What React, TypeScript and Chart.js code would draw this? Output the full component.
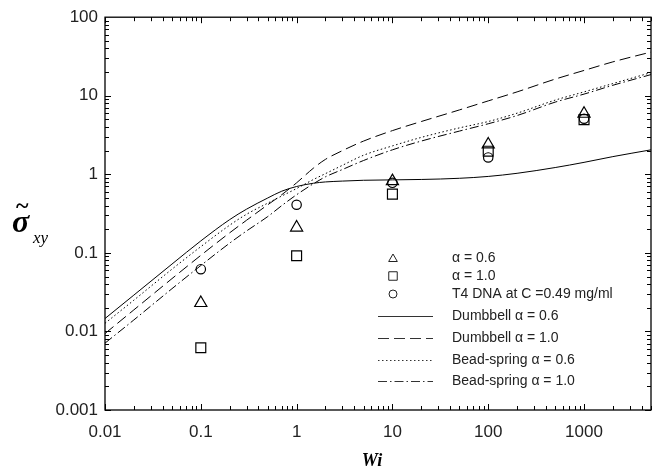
import { useEffect, useRef } from 'react';
import { Chart, registerables } from 'chart.js';
Chart.register(...registerables);

// Model curves (Wi grid shared)
const wiGrid = [0.01, 0.02, 0.05, 0.1, 0.2, 0.3, 0.5, 0.7, 1, 1.5, 2, 3, 5, 10, 20, 50, 100, 200, 500, 1000, 2000, 5000];
const dumbbell06 = [0.0146, 0.029, 0.072, 0.142, 0.265, 0.36, 0.5, 0.61, 0.7, 0.77, 0.8, 0.82, 0.84, 0.85, 0.86, 0.89, 0.94, 1.03, 1.22, 1.42, 1.68, 2.05];
const dumbbell10 = [0.0094, 0.0188, 0.047, 0.093, 0.18, 0.26, 0.41, 0.55, 0.78, 1.2, 1.55, 2.0, 2.65, 3.6, 4.7, 6.6, 8.6, 11.2, 16.3, 21, 27, 36];
const beadSpring06 = [0.0127, 0.025, 0.062, 0.12, 0.225, 0.31, 0.43, 0.53, 0.66, 0.86, 1.02, 1.3, 1.75, 2.3, 2.95, 3.9, 4.7, 6.0, 8.8, 11.2, 14.3, 19.7];
const beadSpring10 = [0.0071, 0.014, 0.035, 0.069, 0.133, 0.19, 0.29, 0.4, 0.55, 0.76, 0.93, 1.15, 1.5, 2.05, 2.65, 3.55, 4.4, 5.6, 8.3, 10.5, 13.6, 18.6];

// Simulation / experiment points
const wiPoints = [0.1, 1, 10, 100, 1000];
const alpha06Points = [0.023, 0.21, 0.82, 2.4, 5.9];
const alpha10Points = [0.0062, 0.092, 0.56, 1.97, 4.97];
const t4DnaPoints = [0.062, 0.41, 0.78, 1.64, 5.1];

const xTickValues = [0.01, 0.1, 1, 10, 100, 1000];
const xTickLabels = ['0.01', '0.1', '1', '10', '100', '1000'];
const yTickValues = [0.001, 0.01, 0.1, 1, 10, 100];
const yTickLabels = ['0.001', '0.01', '0.1', '1', '10', '100'];

const seriesLabels = [
  'α = 0.6',
  'α = 1.0',
  'T4 DNA at C =0.49 mg/ml',
  'Dumbbell α = 0.6',
  'Dumbbell α = 1.0',
  'Bead-spring α = 0.6',
  'Bead-spring α = 1.0',
];

const X_MIN = 0.01;
const X_MAX = 5000;
const Y_MIN = 0.001;
const Y_MAX = 100;

const SANS = '"Liberation Sans", Arial, Helvetica, sans-serif';
const SERIF = '"Liberation Serif", "Times New Roman", serif';

const toXY = (xs: number[], ys: number[]) => xs.map((x, i) => ({ x, y: ys[i] }));

function drawMarker(ctx: CanvasRenderingContext2D, style: string, x: number, y: number, r: number) {
  ctx.beginPath();
  if (style === 'triangle') {
    for (let k = 0; k < 3; k++) {
      const a = -Math.PI / 2 + (k * 2 * Math.PI) / 3;
      const px = x + Math.cos(a) * r;
      const py = y + Math.sin(a) * r + r * 0.2;
      if (k === 0) ctx.moveTo(px, py);
      else ctx.lineTo(px, py);
    }
    ctx.closePath();
  } else if (style === 'rect') {
    const s = r * Math.SQRT1_2;
    ctx.rect(x - s, y - s, 2 * s, 2 * s);
  } else {
    ctx.arc(x, y, r, 0, Math.PI * 2);
  }
  ctx.stroke();
}

const framePlugin = {
  id: 'framePlugin',
  afterDraw(chart: any) {
    const { ctx, chartArea } = chart;
    const { left, right, top, bottom } = chartArea;
    const xs = chart.scales.x;
    const ys = chart.scales.y;
    ctx.save();
    ctx.strokeStyle = '#000';
    ctx.lineWidth = 1.3;
    ctx.strokeRect(left, top, right - left, bottom - top);

    ctx.lineWidth = 1;
    // x ticks
    for (let e = -2; e <= 3; e++) {
      for (let k = 1; k <= 9; k++) {
        const v = k * Math.pow(10, e);
        if (v > X_MAX * 1.0001) continue;
        const px = Math.round(xs.getPixelForValue(v)) + 0.5;
        const len = k === 1 ? 6 : 4;
        ctx.beginPath();
        ctx.moveTo(px, bottom);
        ctx.lineTo(px, bottom - len);
        ctx.moveTo(px, top);
        ctx.lineTo(px, top + len);
        ctx.stroke();
      }
    }
    // y ticks
    for (let e = -3; e <= 1; e++) {
      for (let k = 1; k <= 9; k++) {
        const v = k * Math.pow(10, e);
        const py = Math.round(ys.getPixelForValue(v)) + 0.5;
        const len = k === 1 ? 6 : 4;
        ctx.beginPath();
        ctx.moveTo(left, py);
        ctx.lineTo(left + len, py);
        ctx.moveTo(right, py);
        ctx.lineTo(right - len, py);
        ctx.stroke();
      }
    }

    // Axis titles
    ctx.fillStyle = '#000';
    ctx.textBaseline = 'alphabetic';
    ctx.textAlign = 'center';
    ctx.font = `italic bold 18px ${SERIF}`;
    ctx.fillText('Wi', 372, 466);

    ctx.textAlign = 'left';
    ctx.font = `italic bold 32px ${SERIF}`;
    ctx.fillText('σ', 12, 232);
    ctx.font = `bold 24px ${SERIF}`;
    ctx.fillText('~', 16, 213);
    ctx.font = `italic 17px ${SERIF}`;
    ctx.fillText('xy', 33, 243);

    // Legend
    ctx.font = `14px ${SANS}`;
    ctx.textBaseline = 'middle';
    const textX = 452;
    const symX = 393;
    const rows = [258, 276, 294, 316, 338, 360, 381];
    chart.data.datasets.forEach((ds: any, i: number) => {
      const y = rows[i];
      ctx.fillStyle = '#222';
      ctx.fillText(ds.label, textX, y);
      if (ds.showLine === false) {
        ctx.strokeStyle = '#222';
        ctx.lineWidth = 1;
        ctx.setLineDash([]);
        const r = ds.pointStyle === 'triangle' ? 5 : ds.pointStyle === 'rect' ? 6 : 4;
        drawMarker(ctx, ds.pointStyle, symX, y, r);
      } else {
        ctx.strokeStyle = '#333';
        ctx.lineWidth = 1;
        ctx.setLineDash(ds.borderDash || []);
        ctx.beginPath();
        ctx.moveTo(378, y + 0.5);
        ctx.lineTo(433, y + 0.5);
        ctx.stroke();
        ctx.setLineDash([]);
      }
    });
    ctx.restore();
  },
};

export default function App() {
  const ref = useRef<HTMLCanvasElement | null>(null);
  useEffect(() => {
    if (!ref.current) return;
    const scatterCommon = {
      type: 'scatter' as const,
      showLine: false,
      borderColor: '#000',
      backgroundColor: 'rgba(0,0,0,0)',
      borderWidth: 1.2,
    };
    const lineCommon = {
      type: 'line' as const,
      borderColor: '#000',
      borderWidth: 1,
      pointRadius: 0,
      fill: false,
      cubicInterpolationMode: 'monotone' as const,
    };
    const chart = new Chart(ref.current, {
      type: 'scatter',
      data: {
        datasets: [
          { ...scatterCommon, label: seriesLabels[0], data: toXY(wiPoints, alpha06Points), pointStyle: 'triangle', pointRadius: 7 },
          { ...scatterCommon, label: seriesLabels[1], data: toXY(wiPoints, alpha10Points), pointStyle: 'rect', pointRadius: 7 },
          { ...scatterCommon, label: seriesLabels[2], data: toXY(wiPoints, t4DnaPoints), pointStyle: 'circle', pointRadius: 4.7 },
          { ...lineCommon, label: seriesLabels[3], data: toXY(wiGrid, dumbbell06), borderDash: [] },
          { ...lineCommon, label: seriesLabels[4], data: toXY(wiGrid, dumbbell10), borderDash: [11, 5] },
          { ...lineCommon, label: seriesLabels[5], data: toXY(wiGrid, beadSpring06), borderDash: [1.5, 2.5] },
          { ...lineCommon, label: seriesLabels[6], data: toXY(wiGrid, beadSpring10), borderDash: [9, 3, 1.5, 3] },
        ] as any,
      },
      options: {
        animation: false,
        responsive: false,
        devicePixelRatio: 1,
        layout: { padding: { top: 15, right: 9, left: 0, bottom: 0 } },
        plugins: { legend: { display: false }, tooltip: { enabled: false } },
        scales: {
          x: {
            type: 'logarithmic',
            min: X_MIN,
            max: X_MAX,
            grid: { display: false, drawTicks: false },
            border: { display: false },
            afterBuildTicks: (s: any) => {
              s.ticks = xTickValues.map((v) => ({ value: v }));
            },
            afterFit: (s: any) => {
              s.height = 64;
            },
            ticks: {
              autoSkip: false,
              maxRotation: 0,
              padding: 12,
              color: '#222',
              font: { family: SANS, size: 17 },
              callback: (_v: any, i: number) => xTickLabels[i],
            },
          },
          y: {
            type: 'logarithmic',
            min: Y_MIN,
            max: Y_MAX,
            grid: { display: false, drawTicks: false },
            border: { display: false },
            afterBuildTicks: (s: any) => {
              s.ticks = yTickValues.map((v) => ({ value: v }));
            },
            afterFit: (s: any) => {
              s.width = 105;
            },
            ticks: {
              autoSkip: false,
              padding: 7,
              color: '#222',
              font: { family: SANS, size: 17 },
              callback: (_v: any, i: number) => yTickLabels[i],
            },
          },
        },
      } as any,
      plugins: [framePlugin],
    });
    return () => chart.destroy();
  }, []);
  return (
    <div style={{ position: 'absolute', left: 0, top: 0, width: 660, height: 474, background: '#fff' }}>
      <canvas ref={ref} width={660} height={474} style={{ display: 'block', width: 660, height: 474 }} />
    </div>
  );
}
